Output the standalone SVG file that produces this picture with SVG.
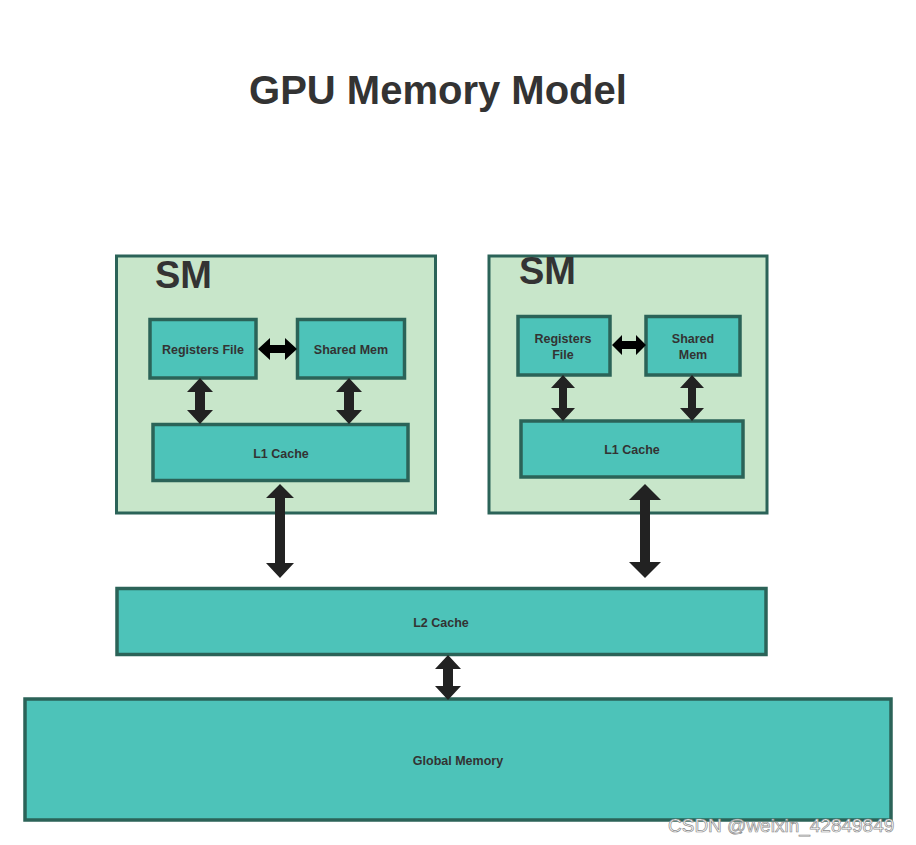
<svg xmlns="http://www.w3.org/2000/svg" width="916" height="845" viewBox="0 0 916 845">
<style>
.sm{fill:#c8e6ca;stroke:#2b6358;stroke-width:3}
.box{fill:#4dc3b9;stroke:#2b6358;stroke-width:3.5}
.lbl{font-family:"Liberation Sans",Arial,sans-serif;font-weight:bold;font-size:12.5px;fill:#333;text-anchor:middle}
.smt{font-family:"Liberation Sans",Arial,sans-serif;font-weight:bold;font-size:38px;fill:#333}
.arr{fill:#222}
.arrb{fill:#000}
</style>
<rect width="916" height="845" fill="#fff"/>
<text x="438" y="104" font-family="Liberation Sans, Arial, sans-serif" font-weight="bold" font-size="40" fill="#333" text-anchor="middle">GPU Memory Model</text>

<g id="sm1">
<rect class="sm" x="116.5" y="256" width="319" height="257"/>
<text class="smt" x="155" y="288">SM</text>
</g>
<g id="reg1"><rect class="box" x="150" y="319.5" width="106" height="58.5"/><text class="lbl" x="203" y="354">Registers File</text></g>
<g id="shm1"><rect class="box" x="297.5" y="319.5" width="107" height="58.5"/><text class="lbl" x="351" y="354">Shared Mem</text></g>
<g id="l1a"><rect class="box" x="153" y="424.5" width="255" height="56"/><text class="lbl" x="281" y="458">L1 Cache</text></g>

<g id="sm2">
<rect class="sm" x="489" y="256" width="278" height="257"/>
<text class="smt" x="519" y="284">SM</text>
</g>
<g id="reg2"><rect class="box" x="518" y="316.5" width="92" height="58.5"/><text class="lbl" x="563" y="343">Registers</text><text class="lbl" x="563" y="359">File</text></g>
<g id="shm2"><rect class="box" x="646" y="316.5" width="94" height="58.5"/><text class="lbl" x="693" y="343">Shared</text><text class="lbl" x="693" y="359">Mem</text></g>
<g id="l1b"><rect class="box" x="521" y="421" width="222" height="56"/><text class="lbl" x="632" y="454">L1 Cache</text></g>

<g id="l2"><rect class="box" x="117" y="588.5" width="649" height="66"/><text class="lbl" x="441" y="627">L2 Cache</text></g>
<g id="global"><rect class="box" x="25" y="699" width="866" height="121"/><text class="lbl" x="458" y="765">Global Memory</text></g>

<g id="connectors">
<!-- horizontal arrows -->
<polygon class="arrb" points="258,349 270,338 270,345 285,345 285,338 297,349 285,360 285,353 270,353 270,360"/>
<polygon class="arrb" points="612,345 622,335 622,341 636,341 636,335 646,345 636,355 636,349 622,349 622,355"/>
<!-- small vertical arrows -->
<polygon class="arr" points="200,378 213,392 205,392 205,410 213,410 200,424 187,410 195,410 195,392 187,392"/>
<polygon class="arr" points="349,378 362,392 354,392 354,410 362,410 349,424 336,410 344,410 344,392 336,392"/>
<polygon class="arr" points="563,375 575,388 567,388 567,408 575,408 563,421 551,408 559,408 559,388 551,388"/>
<polygon class="arr" points="692,375 704,388 696,388 696,408 704,408 692,421 680,408 688,408 688,388 680,388"/>
<!-- big arrows -->
<polygon class="arr" points="280,484 294,498 285,498 285,563 294,563 280,578 266,563 275,563 275,498 266,498"/>
<polygon class="arr" points="645,484 661,500 650,500 650,562 661,562 645,578 629,562 640,562 640,500 629,500"/>
<!-- L2 to global -->
<polygon class="arr" points="448,655 461,669 453,669 453,686 461,686 448,700 435,686 443,686 443,669 435,669"/>
</g>
<text x="668" y="832" font-family="Liberation Sans, Arial, sans-serif" font-size="19" fill="#fff" stroke="#8c8c8c" stroke-width="0.7">CSDN @weixin_42849849</text>
</svg>
